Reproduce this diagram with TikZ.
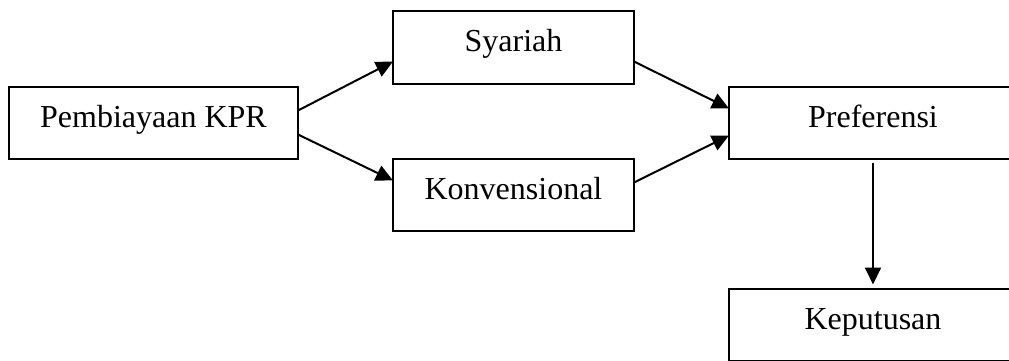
\documentclass[tikz,border=0pt]{standalone}
\usepackage{fontspec}
\setmainfont{Liberation Serif}
\usetikzlibrary{arrows.meta,positioning}
\tikzset{
  box/.style={rectangle, draw=black, line width=2pt, fill=white, align=center,
    minimum height=72pt, inner sep=3pt, outer sep=0pt, text height=21pt, text depth=12pt,
    font=\fontsize{32}{38}\selectfont},
  link/.style={-{Triangle[length=17pt,width=16pt]}, draw=black, line width=2pt},
}
\begin{document}
\begin{tikzpicture}
  \useasboundingbox (0,0) rectangle (1009pt,-361pt);
  \node[box, minimum width=289pt] (kpr) at (153.5pt,-122.5pt) {Pembiayaan KPR};
  \node[box, minimum width=241pt, above right=3pt and 95pt of kpr] (syariah) {Syariah};
  \node[box, minimum width=241pt, below right=0pt and 95pt of kpr] (konv) {Konvensional};
  \node[box, minimum width=288pt, below right=3pt and 95pt of syariah] (pref) {Preferensi};
  \node[box, minimum width=288pt, below=130pt of pref] (keputusan) {Keputusan};
  \draw[link] ([yshift=12pt]kpr.east) -- ([yshift=-14pt]syariah.west);
  \draw[link] ([yshift=-12pt]kpr.east) -- ([yshift=14pt]konv.west);
  \draw[link] ([yshift=-14pt]syariah.east) -- ([yshift=14pt]pref.west);
  \draw[link] ([yshift=12pt]konv.east) -- ([yshift=-13pt]pref.west);
  \draw[link, shorten <=4pt, shorten >=4pt] (pref) -- (keputusan);
\end{tikzpicture}
\end{document}
